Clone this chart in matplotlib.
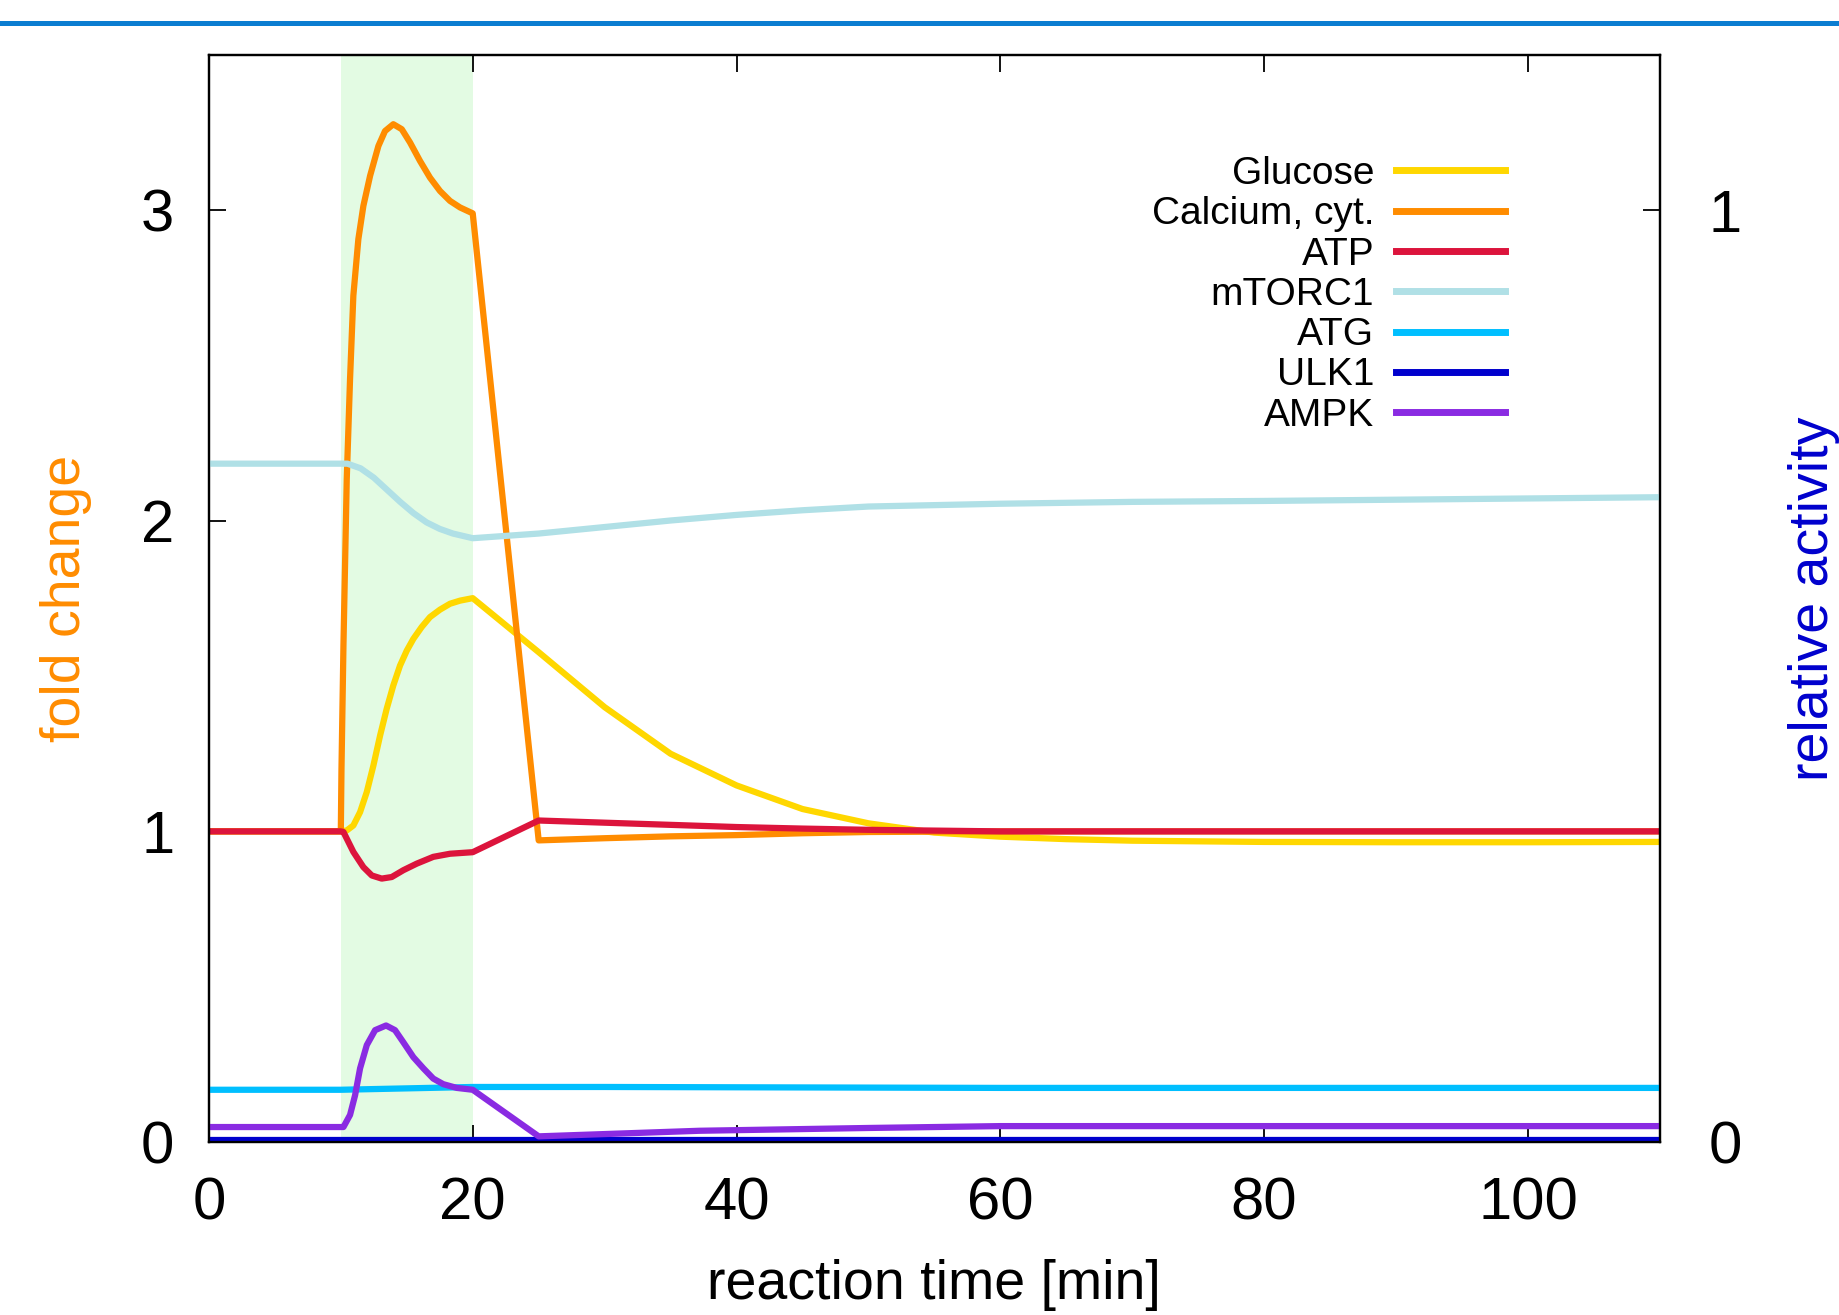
import matplotlib
matplotlib.use("Agg")
import matplotlib.pyplot as plt
from matplotlib import font_manager
from matplotlib.lines import Line2D

# pick a narrow sans if we have one (gnuplot-ish look)
names = {f.name for f in font_manager.fontManager.ttflist}
family = 'Liberation Sans Narrow' if 'Liberation Sans Narrow' in names else 'Liberation Sans'
plt.rcParams['font.family'] = [family, 'DejaVu Sans']
plt.rcParams['lines.solid_joinstyle'] = 'round'

# stimulus window [min]
stim_start, stim_end = 10, 20

# fold change series (left axis)
glucose_t = [0, 10, 10.45, 10.95, 11.46, 11.97, 12.47, 12.98, 13.48, 13.98, 14.49, 15.0, 15.5, 16.13, 16.76,
             17.52, 18.28, 19.04, 20, 25, 30, 35, 40, 45, 50, 55, 60, 65, 70, 80, 90, 100, 110]
glucose_v = [1.0, 1.0, 1.003, 1.019, 1.062, 1.127, 1.212, 1.309, 1.395, 1.470, 1.534, 1.582, 1.620, 1.658, 1.690,
             1.714, 1.733, 1.743, 1.751, 1.577, 1.40, 1.25, 1.148, 1.072, 1.026, 0.996, 0.983, 0.975, 0.970,
             0.966, 0.965, 0.965, 0.966]

calcium_t = [0, 10, 10.05, 10.2, 10.45, 10.7, 10.95, 11.33, 11.71, 12.22, 12.85, 13.35, 13.98, 14.62, 15.25,
             16.0, 16.76, 17.52, 18.28, 19.04, 20, 25, 30, 35, 40, 45, 50, 60, 110]
calcium_v = [1.0, 1.0, 1.2, 1.6, 2.135, 2.457, 2.725, 2.907, 3.014, 3.111, 3.207, 3.255, 3.277, 3.261, 3.218,
             3.159, 3.105, 3.062, 3.030, 3.009, 2.99, 0.971, 0.978, 0.984, 0.988, 0.994, 0.998, 1.0, 1.0]

atp_t = [0, 10, 10.2, 10.95, 11.71, 12.35, 13.1, 13.86, 14.74, 15.75, 17.01, 18.28, 20, 25, 30, 35, 40, 45,
         50, 60, 110]
atp_v = [1.0, 1.0, 0.998, 0.934, 0.885, 0.858, 0.848, 0.853, 0.875, 0.896, 0.918, 0.928, 0.933, 1.035, 1.028,
         1.021, 1.014, 1.009, 1.005, 1.0, 1.0]

# relative activity series (right axis)
mtorc1_t = [0, 10.5, 11.5, 12.5, 13.5, 14.5, 15.5, 16.5, 17.5, 18.5, 20, 25, 30, 35, 40, 45, 50, 60, 70, 80, 110]
mtorc1_v = [0.728, 0.728, 0.723, 0.713, 0.700, 0.687, 0.675, 0.665, 0.658, 0.653, 0.648, 0.653, 0.660, 0.667,
            0.673, 0.678, 0.682, 0.685, 0.687, 0.688, 0.692]

atg_t = [0, 10, 20, 30, 60, 110]
atg_v = [0.056, 0.056, 0.059, 0.059, 0.058, 0.058]

ulk1_t = [0, 110]
ulk1_v = [0.002, 0.002]

ampk_t = [0, 10, 10.2, 10.7, 11.08, 11.46, 11.97, 12.6, 13.43, 14.11, 14.74, 15.5, 16.26, 17.01, 17.77, 18.79,
          20, 25, 37.2, 50, 60, 110]
ampk_v = [0.016, 0.016, 0.016, 0.029, 0.050, 0.079, 0.104, 0.120, 0.125, 0.120, 0.107, 0.091, 0.079, 0.068,
          0.062, 0.058, 0.056, 0.006, 0.012, 0.015, 0.017, 0.017]

colors = {
    'Glucose': '#ffd700',
    'Calcium, cyt.': '#ff8c00',
    'ATP': '#dc143c',
    'mTORC1': '#b0e0e6',
    'ATG': '#00bfff',
    'ULK1': '#0000cd',
    'AMPK': '#8a2be2',
}
lw = 4.5

fig = plt.figure(figsize=(18.39, 13.15), dpi=100)
ax = fig.add_axes([0.1136, 0.1316, 0.789, 0.8266])
ax2 = ax.twinx()

# header rule across the page
fig.add_artist(Line2D([0, 1], [0.9825, 0.9825], transform=fig.transFigure, color='#0b7dd1', lw=3.6))

ax.axvspan(stim_start, stim_end, color='#e3fbe3', lw=0, zorder=0)

h = []
h += ax.plot(glucose_t, glucose_v, color=colors['Glucose'], lw=lw, label='Glucose')
h += ax.plot(calcium_t, calcium_v, color=colors['Calcium, cyt.'], lw=lw, label='Calcium, cyt.')
h += ax.plot(atp_t, atp_v, color=colors['ATP'], lw=lw, label='ATP')
h += ax2.plot(mtorc1_t, mtorc1_v, color=colors['mTORC1'], lw=lw, label='mTORC1')
h += ax2.plot(atg_t, atg_v, color=colors['ATG'], lw=lw, label='ATG')
h += ax2.plot(ulk1_t, ulk1_v, color=colors['ULK1'], lw=lw, label='ULK1')
h += ax2.plot(ampk_t, ampk_v, color=colors['AMPK'], lw=lw, label='AMPK')

ax.set_xlim(0, 110)
ax.set_ylim(0, 3.5)
ax2.set_ylim(0, 3.5 / 3)
ax.set_xticks([0, 20, 40, 60, 80, 100])
ax.set_yticks([0, 1, 2, 3])
ax2.set_yticks([0, 1])

ax.tick_params(axis='x', direction='in', top=True, length=12, width=1.3, labelsize=43, pad=25)
ax.tick_params(axis='y', direction='in', length=12, width=1.3, labelsize=43, pad=25)
ax2.tick_params(axis='y', direction='in', length=12, width=1.3, labelsize=43, pad=35)
for a in (ax, ax2):
    for s in a.spines.values():
        s.set_linewidth(1.6)

ax.set_xlabel('reaction time [min]', fontsize=40)
ax.xaxis.set_label_coords(0.5, -0.108)
ax.set_ylabel('fold change', fontsize=40, color='#ff8c00')
ax.yaxis.set_label_coords(-0.0805, 0.5)
ax2.set_ylabel('relative activity', fontsize=40, color='#0000cd')
ax2.yaxis.set_label_coords(1.088, 0.5)

leg = ax2.legend(handles=h, loc='upper right', bbox_to_anchor=(0.893, 0.907), frameon=False,
                 markerfirst=False, fontsize=28, handlelength=2.8, handletextpad=0.55,
                 labelspacing=0.11, borderpad=0, borderaxespad=0)
for line in leg.get_lines():
    line.set_linewidth(5)

fig.savefig('out.png', dpi=100)
